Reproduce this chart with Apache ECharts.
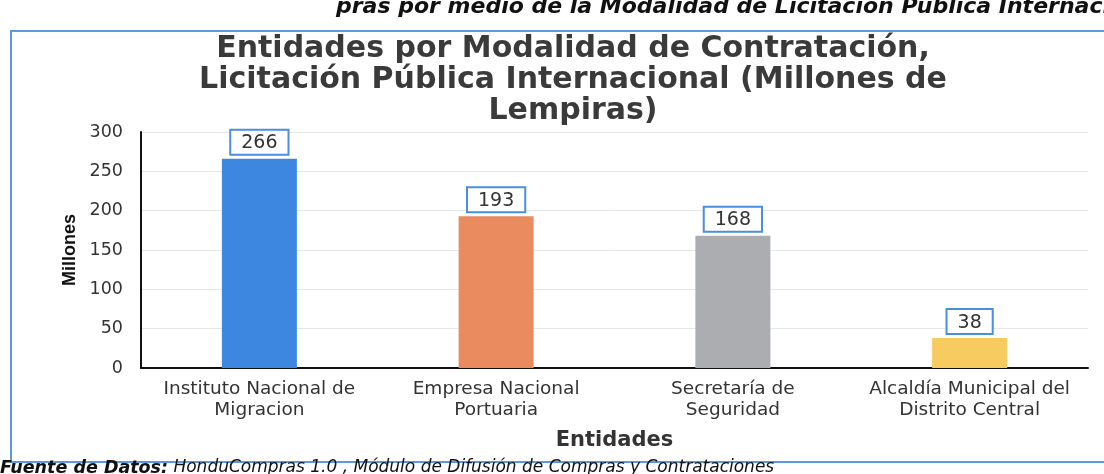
<!DOCTYPE html>
<html>
<head>
<meta charset="utf-8">
<script src="https://cdn.jsdelivr.net/npm/echarts@6/dist/echarts.min.js"></script>
<style>
  html, body { margin: 0; padding: 0; background: #fff; }
  #chart { width: 1104px; height: 474px; }
</style>
</head>
<body>
<div id="chart"></div>
<script>
// datos del grafico
var categorias = ['Instituto Nacional de\nMigracion', 'Empresa Nacional\nPortuaria', 'Secretaría de\nSeguridad', 'Alcaldía Municipal del\nDistrito Central'];
var montos = [266, 193, 168, 38];
var colores = ['#3d87e0', '#e98b5e', '#abadb0', '#f7cb5f'];
var ticksY = [0, 50, 100, 150, 200, 250, 300];

var fuente = 'DejaVu Sans, Verdana, sans-serif';

var myChart = echarts.init(document.getElementById('chart'));

var option = {
  backgroundColor: '#fff',
  textStyle: { fontFamily: fuente },
  title: {
    text: 'Entidades por Modalidad de Contratación,\nLicitación Pública Internacional (Millones de\nLempiras)',
    left: 568,
    textAlign: 'center',
    top: 29,
    textStyle: { fontSize: 30, fontWeight: 'bold', color: '#3a3a3a', lineHeight: 31, fontFamily: fuente }
  },
  graphic: [
    {
      type: 'rect',
      shape: { x: 11, y: 31, width: 1110, height: 431 },
      style: { fill: 'none', stroke: '#5b9ae0', lineWidth: 2 }
    },
    {
      type: 'text',
      left: 336, top: -4,
      style: {
        text: 'pras por medio de la Modalidad de Licitación Pública Internacional',
        font: 'italic bold 22px ' + fuente,
        fill: '#111'
      }
    },
    {
      type: 'text',
      left: 0, top: 459,
      style: {
        text: '{b|Fuente de Datos:} HonduCompras 1.0 , Módulo de Difusión de Compras y Contrataciones',
        font: 'italic 17px ' + fuente,
        fill: '#111',
        rich: { b: { font: 'italic bold 17.5px ' + fuente, fill: '#111' } }
      }
    }
  ],
  grid: { left: 141, right: 16, top: 132, bottom: 106 },
  xAxis: {
    type: 'category',
    data: categorias,
    name: 'Entidades',
    nameLocation: 'middle',
    nameGap: 62,
    nameTextStyle: { fontSize: 21, fontWeight: 'bold', color: '#333' },
    axisLine: { lineStyle: { color: '#111', width: 2 } },
    axisTick: { show: false },
    axisLabel: { interval: 0, fontSize: 18.5, color: '#333', lineHeight: 21, margin: 11 }
  },
  yAxis: {
    type: 'value',
    min: ticksY[0],
    max: ticksY[ticksY.length - 1],
    interval: 50,
    name: 'Millones',
    nameLocation: 'middle',
    nameGap: 55,
    nameTextStyle: { fontSize: 18, fontWeight: 'bold', color: '#111', fontFamily: 'Liberation Sans, Arial, sans-serif' },
    axisLine: { show: true, lineStyle: { color: '#111', width: 2 } },
    axisTick: { show: false },
    axisLabel: { fontSize: 17.5, color: '#333', margin: 18 },
    splitLine: { lineStyle: { color: '#e4e8ea', width: 1 } }
  },
  series: [{
    type: 'bar',
    barWidth: 75,
    data: montos.map(function (v, i) {
      return { value: v, itemStyle: { color: colores[i] } };
    }),
    label: {
      show: true,
      position: 'top',
      distance: 5,
      fontSize: 19,
      color: '#333',
      backgroundColor: '#fff',
      borderColor: '#4a8ee0',
      borderWidth: 2,
      padding: [3, 10, 1, 10]
    }
  }]
};

myChart.setOption(option);
</script>
</body>
</html>
